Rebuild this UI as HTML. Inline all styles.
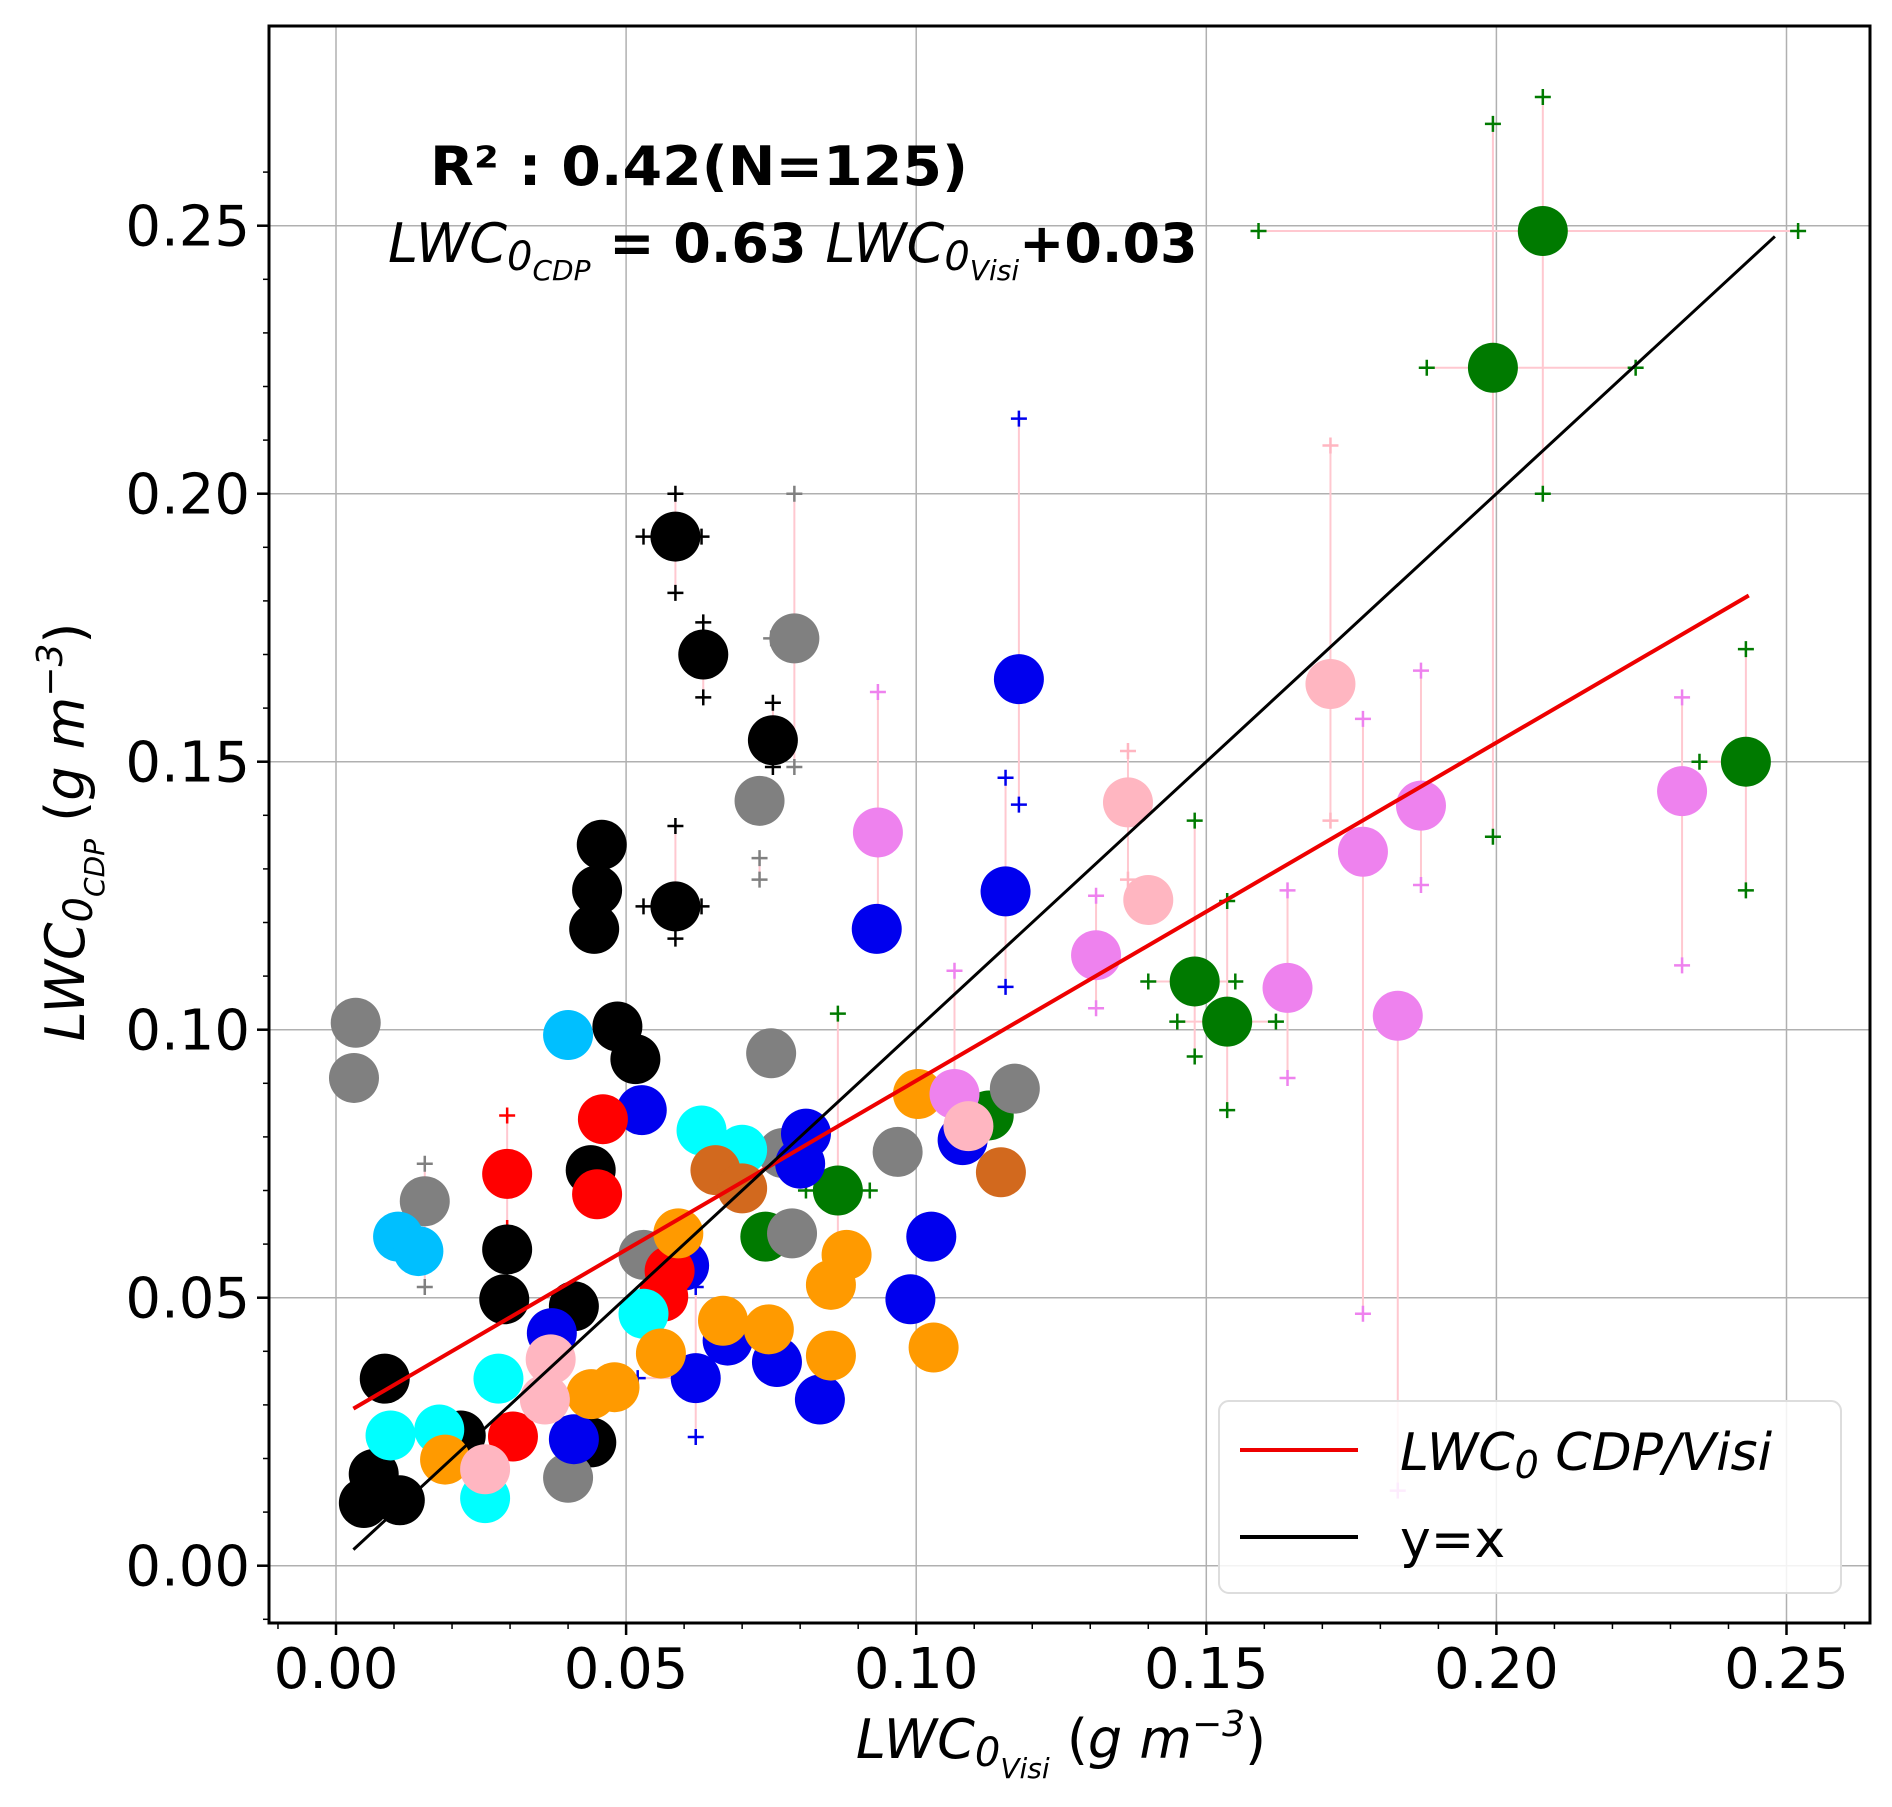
<!DOCTYPE html>
<html><head><meta charset="utf-8"><style>
html,body{margin:0;padding:0;background:#fff}
svg text{font-family:"DejaVu Sans","Liberation Sans",sans-serif}
</style></head><body>
<svg id="chart" width="1892" height="1802" viewBox="0 0 1892 1802" xmlns="http://www.w3.org/2000/svg">
<rect x="0" y="0" width="1892" height="1802" fill="#fff"/>
<g id="grid"></g>
<g id="errs"></g>
<g id="pts"></g>
<g id="lines"></g>
<g id="axes"></g>
<text x="430" y="185" font-size="54" font-weight="bold" textLength="538" lengthAdjust="spacingAndGlyphs">R² : 0.42(N=125)</text>
<text x="388" y="262" font-size="54"><tspan font-style="italic">LWC</tspan><tspan font-style="italic" font-size="40" dy="8">0</tspan><tspan font-style="italic" font-size="28" dy="10">CDP</tspan><tspan dy="-18" font-weight="bold"> = 0.63  </tspan><tspan font-style="italic">LWC</tspan><tspan font-style="italic" font-size="40" dy="8">0</tspan><tspan font-style="italic" font-size="28" dy="10">Visi</tspan><tspan dy="-18" font-weight="bold">+0.03</tspan></text>
<g>
<rect x="1219" y="1401" width="622" height="192" rx="10" fill="#fff" fill-opacity="0.85" stroke="#ddd" stroke-width="2"/>
<line x1="1240" y1="1450" x2="1358" y2="1450" stroke="#e00" stroke-width="4"/>
<text x="1400" y="1470" font-size="52" font-style="italic">LWC<tspan font-size="38" dy="8">0</tspan><tspan dy="-8"> CDP/Visi</tspan></text>
<line x1="1240" y1="1537" x2="1358" y2="1537" stroke="#000" stroke-width="4"/>
<text x="1400" y="1557" font-size="52">y=x</text>
</g>
<text x="1061" y="1758" font-size="54" font-style="italic" text-anchor="middle">LWC<tspan font-size="40" dy="8">0</tspan><tspan font-size="28" dy="12">Visi</tspan><tspan dy="-20" font-style="normal"> (</tspan>g m<tspan font-size="36" dy="-22">−3</tspan><tspan dy="22" font-style="normal">)</tspan></text>
<text transform="translate(84,832) rotate(-90)" font-size="54" font-style="italic" text-anchor="middle">LWC<tspan font-size="40" dy="8">0</tspan><tspan font-size="28" dy="12">CDP</tspan><tspan dy="-20" font-style="normal"> (</tspan>g m<tspan font-size="36" dy="-22">−3</tspan><tspan dy="22" font-style="normal">)</tspan></text>
</svg>
<script>
const xTicks=[0,0.05,0.10,0.15,0.20,0.25];
const yTicks=[0,0.05,0.10,0.15,0.20,0.25];
const tickLabels=["0.00","0.05","0.10","0.15","0.20","0.25"];
const ptX=[0.208,0.1994,0.243,0.148,0.1536,0.0865,0.074,0.1125,
0.0585,0.0633,0.0753,0.0458,0.045,0.0445,0.0585,0.0485,0.0516,0.0439,0.0295,0.029,0.041,0.0084,0.0065,0.0048,0.011,0.0215,0.044,
0.079,0.073,0.075,0.0034,0.0031,0.0153,0.0968,0.117,0.0786,0.053,0.040,0.077,
0.1177,0.1154,0.0932,0.0527,0.081,0.080,0.108,0.1026,0.099,0.062,0.0372,0.041,0.0834,0.060,0.0675,0.076,
0.046,0.045,0.0295,0.0564,0.0575,0.0305,
0.040,0.0107,0.0142,0.063,0.070,0.028,0.0094,0.0178,0.0257,0.053,
0.1003,0.103,0.0853,0.088,0.0853,0.0667,0.0746,0.056,0.0188,0.044,0.048,0.059,
0.1146,0.0654,0.070,
0.0934,0.177,0.187,0.232,0.131,0.164,0.183,0.1066,
0.1714,0.1365,0.140,0.109,0.037,0.036,0.0257];
const ptY=[0.249,0.2235,0.150,0.109,0.1015,0.070,0.0614,0.084,
0.192,0.170,0.154,0.1345,0.126,0.1188,0.123,0.1006,0.0945,0.0738,0.059,0.0497,0.0484,0.0349,0.0171,0.0117,0.0122,0.0243,0.023,
0.173,0.1427,0.0956,0.1013,0.091,0.068,0.0772,0.089,0.062,0.058,0.0164,0.077,
0.1654,0.1258,0.1188,0.085,0.0806,0.075,0.0794,0.0614,0.0497,0.035,0.0434,0.0236,0.031,0.056,0.042,0.038,
0.0833,0.0693,0.0731,0.0502,0.055,0.0241,
0.099,0.0614,0.0587,0.0812,0.0776,0.0349,0.0243,0.0254,0.0126,0.047,
0.088,0.0407,0.0392,0.058,0.0524,0.0457,0.0441,0.0396,0.0198,0.032,0.0333,0.062,
0.0734,0.0738,0.0704,
0.1368,0.1332,0.1418,0.1445,0.1139,0.1078,0.1026,0.088,
0.1645,0.1424,0.1242,0.082,0.0385,0.031,0.018];
const ptC=["g","g","g","g","g","g","g","g",
"k","k","k","k","k","k","k","k","k","k","k","k","k","k","k","k","k","k","k",
"gr","gr","gr","gr","gr","gr","gr","gr","gr","gr","gr","gr",
"b","b","b","b","b","b","b","b","b","b","b","b","b","b","b","b",
"r","r","r","r","r","r",
"sb","sb","sb","c","c","c","c","c","c","c",
"o","o","o","o","o","o","o","o","o","o","o","o",
"ch","ch","ch",
"v","v","v","v","v","v","v","v",
"p","p","p","p","p","p","p"];
const errIdx=[0,1,2,3,4,8,9,10,14,39,40,27,28,86,87,88,89,90,91,92,93,94,95,5,57,32,48];
const errYlo=[0.200,0.136,0.126,0.095,0.085,0.1815,0.162,0.149,0.117,0.142,0.108,0.149,0.128,0.122,0.047,0.127,0.112,0.104,0.091,0.014,0.086,0.139,0.128,0.06,0.063,0.052,0.024];
const errYhi=[0.274,0.269,0.171,0.139,0.124,0.200,0.176,0.161,0.138,0.214,0.147,0.200,0.132,0.163,0.158,0.167,0.162,0.125,0.126,0.102,0.111,0.209,0.152,0.103,0.084,0.075,0.052];
const errXlo=[0.159,0.188,0.235,0.140,0.145,0.053,0.0625,0.074,0.053,0.1177,0.1154,0.075,0.072,0.0934,0.177,0.187,0.232,0.131,0.164,0.183,0.1066,0.1714,0.1365,0.081,0.0295,0.0153,0.052];
const errXhi=[0.252,0.224,0.243,0.155,0.162,0.063,0.0633,0.0753,0.063,0.1177,0.1154,0.079,0.073,0.0934,0.177,0.187,0.232,0.131,0.164,0.183,0.1066,0.1714,0.1365,0.092,0.0295,0.0153,0.062];
const fitX=[0.003,0.2435];
const fitY=[0.0293,0.181];
const idX=[0.003,0.248];
const colors={g:"#007a00",k:"#000",gr:"#808080",b:"#0000ee",r:"#f00",sb:"#00bfff",c:"#00ffff",o:"#ff9a00",ch:"#d2691e",v:"#ee82ee",p:"#ffb6c1"};
const X0=269,X1=1870,Y0=26,Y1=1623;
function sx(v){return 336+v*5802;}
function sy(v){return 1565.7-v*5360;}
const NS="http://www.w3.org/2000/svg";
function mk(tag,par,at){const e=document.createElementNS(NS,tag);for(const k in at)e.setAttribute(k,at[k]);par.appendChild(e);return e;}
const grid=document.getElementById('grid'),axes=document.getElementById('axes');
xTicks.forEach((t,i)=>{
 const l=mk('line',grid,{x1:sx(t),x2:sx(t),y1:Y0,y2:Y1,stroke:'#b0b0b0','stroke-width':1.5});
 
 
 const tk=mk('line',axes,{x1:sx(t),x2:sx(t),y1:Y1,y2:Y1+12,stroke:'#000','stroke-width':2.5});
 
 
 const tx=mk('text',axes,{x:sx(t),y:1688,'font-size':56,'text-anchor':'middle'});
 tx.textContent=tickLabels[i];
 
 
});
yTicks.forEach((t,i)=>{
 const l=mk('line',grid,{x1:X0,x2:X1,y1:sy(t),y2:sy(t),stroke:'#b0b0b0','stroke-width':1.5});
 
 
 const tk=mk('line',axes,{x1:X0-12,x2:X0,y1:sy(t),y2:sy(t),stroke:'#000','stroke-width':2.5});
 
 
 const tx=mk('text',axes,{x:250,y:sy(t)+20,'font-size':56,'text-anchor':'end'});
 tx.textContent=tickLabels[i];
 
 
});
for(let v=-0.01;v<=0.265;v+=0.01){
 const mx=sx(v); if(mx>X0&&mx<X1){const m=mk('line',axes,{x1:mx,x2:mx,y1:Y1,y2:Y1+6,stroke:'#000','stroke-width':1.5});
 
 }
 const my=sy(v); if(my>Y0&&my<Y1){const m=mk('line',axes,{x1:X0-6,x2:X0,y1:my,y2:my,stroke:'#000','stroke-width':1.5});
 
 }
}
const frame=mk('rect',axes,{x:X0,y:Y0,width:X1-X0,height:Y1-Y0,fill:'none',stroke:'#000','stroke-width':3});


const errs=document.getElementById('errs');
function cross(x,y,c){
 const g=mk('path',errs,{d:`M${x-8},${y}H${x+8}M${x},${y-8}V${y+8}`,stroke:c,'stroke-width':2.5});
 
 
}
errIdx.forEach((k,i)=>{
 const c=colors[ptC[k]],px=sx(ptX[k]),py=sy(ptY[k]);
 const v=mk('line',errs,{x1:px,x2:px,y1:sy(errYlo[i]),y2:sy(errYhi[i]),stroke:'#ffc8d0','stroke-width':2});
 
 
 const h=mk('line',errs,{x1:sx(errXlo[i]),x2:sx(errXhi[i]),y1:py,y2:py,stroke:'#ffc8d0','stroke-width':2});
 
 
 cross(px,sy(errYlo[i]),c);cross(px,sy(errYhi[i]),c);
 if(errXlo[i]!==ptX[k])cross(sx(errXlo[i]),py,c);
 if(errXhi[i]!==ptX[k])cross(sx(errXhi[i]),py,c);
});
const pts=document.getElementById('pts');
ptX.forEach((x,i)=>{
 const c=mk('circle',pts,{cx:sx(x),cy:sy(ptY[i]),r:25,fill:colors[ptC[i]]});
 
 
});
const lines=document.getElementById('lines');
const fl=mk('line',lines,{x1:sx(fitX[0]),y1:sy(fitY[0]),x2:sx(fitX[1]),y2:sy(fitY[1]),stroke:'#e00','stroke-width':4});


const il=mk('line',lines,{x1:sx(idX[0]),y1:sy(idX[0]),x2:sx(idX[1]),y2:sy(idX[1]),stroke:'#000','stroke-width':3});


</script>
</body></html>
